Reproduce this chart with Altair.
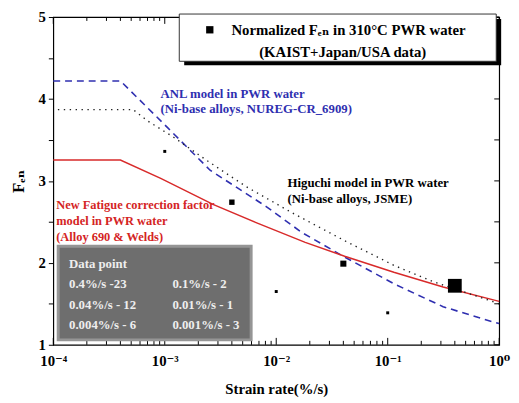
import altair as alt
import pandas as pd

SERIF = "Liberation Serif, Times New Roman, DejaVu Serif, serif"

# ANL model in PWR water (blue dashed)
anl_rate = [0.0001, 0.0004, 0.00106, 0.00255, 0.00807, 0.0170, 0.0411, 0.1135, 0.314, 0.867, 1.0]
anl_fen = [4.22, 4.22, 3.65, 3.13, 2.69, 2.37, 2.07, 1.745, 1.465, 1.28, 1.26]

# Higuchi model in PWR water (black dotted)
hig_rate = [0.00011, 0.00052, 0.000705, 0.00121, 0.00238, 0.00538, 0.0139, 0.0411, 0.1135, 0.256, 0.867, 1.0]
hig_fen = [3.87, 3.87, 3.73, 3.53, 3.25, 2.93, 2.61, 2.27, 1.97, 1.77, 1.53, 1.50]

# New fatigue correction factor model (red solid)
new_rate = [0.0001, 0.0004, 0.00092, 0.00274, 0.0066, 0.0182, 0.0411, 0.1135, 0.314, 1.0]
new_fen = [3.255, 3.255, 3.03, 2.71, 2.49, 2.25, 2.08, 1.885, 1.705, 1.53]

# Normalized Fen data points
pt_rate = [0.4, 0.1, 0.04, 0.01, 0.004, 0.001]
pt_fen = [1.72, 1.39, 1.99, 1.65, 2.74, 3.36]
pt_count = [23, 2, 12, 1, 6, 3]

x_major = [0.0001, 0.001, 0.01, 0.1, 1.0]
x_labels = ["10⁻⁴", "10⁻³", "10⁻²", "10⁻¹", "10⁰"]
x_minor = [d * m for d in x_major[:-1] for m in range(2, 10)]
y_ticks = [1, 1.5, 2, 2.5, 3, 3.5, 4, 4.5, 5]

legend_lines = ["Normalized Fₑₙ in 310°C PWR water", "(KAIST+Japan/USA data)"]
anl_lines = ["ANL model in PWR water", "(Ni-base alloys, NUREG-CR_6909)"]
hig_lines = ["Higuchi model in PWR water", "(Ni-base alloys, JSME)"]
new_lines = ["New Fatigue correction factor", "model in PWR water", "(Alloy 690 & Welds)"]
box_left = ["Data point", "0.4%/s  -23", "0.04%/s - 12", "0.004%/s - 6"]
box_right = ["0.1%/s - 2", "0.01%/s - 1", "0.001%/s - 3"]

W, H = 453, 333

anl = pd.DataFrame({"rate": anl_rate, "fen": anl_fen})
hig = pd.DataFrame({"rate": hig_rate, "fen": hig_fen})
new = pd.DataFrame({"rate": new_rate, "fen": new_fen})
pts = pd.DataFrame({"rate": pt_rate, "fen": pt_fen, "n": pt_count})
xmaj = pd.DataFrame({"v": x_major})
xmin = pd.DataFrame({"v": x_minor})
ytk = pd.DataFrame({"v": y_ticks})

xs = alt.Scale(type="log", domain=[1e-4, 1], nice=False)
ys = alt.Scale(domain=[1, 5], nice=False, zero=False)

lab_arr = "[" + ",".join("'" + s + "'" for s in x_labels) + "]"

ax_bottom = alt.Axis(orient="bottom", values=x_major,
                     labelExpr=lab_arr + "[round(log(datum.value)/LN10)+4]",
                     ticks=False, tickSize=0, domain=False, grid=False,
                     labelFont=SERIF, labelFontSize=15, labelFontWeight="bold",
                     labelColor="black", labelPadding=9, labelFlush=False,
                     labelOverlap=False,
                     title="Strain rate(%/s)", titleFont=SERIF, titleFontSize=15,
                     titleFontWeight="bold", titleColor="black", titleY=37,
                     titleBaseline="top")

ay_left = alt.Axis(orient="left", values=y_ticks,
                   labelExpr="datum.value % 1 == 0 ? format(datum.value, 'd') : ''",
                   tickSize=5, tickColor="black", domain=False, grid=False,
                   labelFont=SERIF, labelFontSize=15, labelFontWeight="bold",
                   labelColor="black", labelPadding=3, labelFlush=False,
                   title="Fₑₙ", titleFont=SERIF, titleFontSize=17,
                   titleFontWeight="bold", titleColor="black", titleX=-35,
                   titleY=H / 2, titleBaseline="middle", titleAlign="center")

blue_line = alt.Chart(anl).mark_line(color="#2f2fb0", strokeWidth=1.6, strokeDash=[7, 5]).encode(
    x=alt.X("rate:Q", scale=xs, axis=ax_bottom),
    y=alt.Y("fen:Q", scale=ys, axis=ay_left),
)
red_line = alt.Chart(new).mark_line(color="#d82a2a", strokeWidth=1.5).encode(
    x=alt.X("rate:Q", scale=xs, axis=None),
    y=alt.Y("fen:Q", scale=ys, axis=None),
)
dot_line = alt.Chart(hig).mark_line(color="#222222", strokeWidth=1.4, strokeDash=[1.4, 4.6]).encode(
    x=alt.X("rate:Q", scale=xs, axis=None),
    y=alt.Y("fen:Q", scale=ys, axis=None),
)
points = alt.Chart(pts).mark_square(color="black", opacity=1).encode(
    x=alt.X("rate:Q", scale=xs, axis=None),
    y=alt.Y("fen:Q", scale=ys, axis=None),
    size=alt.Size("n:O", scale=alt.Scale(type="ordinal", domain=[1, 2, 3, 6, 12, 23],
                                         range=[9, 9, 9, 30, 38, 196]), legend=None),
)


def xticks(df, y0, y1):
    return alt.Chart(df).mark_rule(color="black", strokeWidth=1).encode(
        x=alt.X("v:Q", scale=xs, axis=None), y=alt.value(y0), y2=alt.value(y1))


def yticks(df, x0, x1):
    return alt.Chart(df).mark_rule(color="black", strokeWidth=1).encode(
        y=alt.Y("v:Q", scale=ys, axis=None), x=alt.value(x0), x2=alt.value(x1))


def label(txt, x, y, color="black", size=13, align="left"):
    return alt.Chart(pd.DataFrame({"t": [txt]})).mark_text(
        align=align, baseline="middle", font=SERIF, fontSize=size,
        fontWeight="bold", color=color,
    ).encode(x=alt.value(x), y=alt.value(y), text="t:N")


def box(x, x2, y, y2, fill, stroke=None, sw=0):
    kw = dict(fill=fill)
    if stroke:
        kw.update(stroke=stroke, strokeWidth=sw)
    return alt.Chart(pd.DataFrame({"a": [0]})).mark_rect(**kw).encode(
        x=alt.value(x), x2=alt.value(x2), y=alt.value(y), y2=alt.value(y2))


layers = [
    blue_line,
    xticks(xmaj, H, H - 7), xticks(xmin, H, H - 4),
    xticks(xmaj, 0, 7), xticks(xmin, 0, 4),
    yticks(ytk, W, W - 5),
    red_line, dot_line, points,
]

# legend box
layers.append(box(133, 455, 2, 49, "black"))
layers.append(box(128, 450, -3, 45, "white", "#333333", 1))
layers.append(alt.Chart(pd.DataFrame({"a": [0]})).mark_square(color="black", opacity=1, size=55).encode(
    x=alt.value(159), y=alt.value(13)))
layers.append(label(legend_lines[0], 181, 13, size=15))
layers.append(label(legend_lines[1], 294, 36, size=15, align="center"))

# model annotations
for i, t in enumerate(anl_lines):
    layers.append(label(t, 109, 78 + 16 * i, color="#2f2fb0"))
for i, t in enumerate(hig_lines):
    layers.append(label(t, 238, 169 + 16 * i))
for i, t in enumerate(new_lines):
    layers.append(label(t, 3, 191 + 16.2 * i, color="#d42424", size=12.6))

# data point box
layers.append(box(5, 201, 233, 328, "#6e6e6e", "#959595", 3))
for i, t in enumerate(box_left):
    layers.append(label(t, 16, 251 + 20.6 * i, color="#eeeeee"))
for i, t in enumerate(box_right):
    layers.append(label(t, 121, 271.6 + 20.6 * i, color="#eeeeee"))

chart = alt.layer(*layers).properties(
    width=W, height=H,
    autosize=alt.AutoSizeParams(type="none"),
    padding={"left": 46, "top": 6, "right": 12, "bottom": 56},
).resolve_axis(x="independent", y="independent").configure_view(
    stroke="black", strokeWidth=1.2
)

chart.save("out.html", embed_options={"renderer": "svg", "actions": False})
